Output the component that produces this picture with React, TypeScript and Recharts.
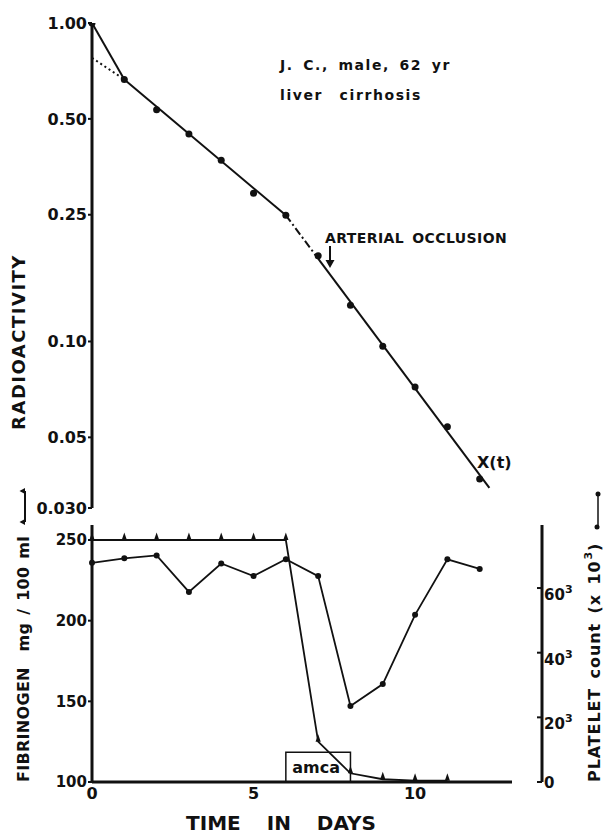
import React from "react";
import { ComposedChart, Line, XAxis, YAxis, ReferenceArea, Label } from "recharts";

const FONT = "'DejaVu Sans', sans-serif";
const INK = "#111";

// upper panel: relative radioactivity X(t), log scale
const radDays = [0, 1, 2, 3, 4, 5, 6, 7, 8, 9, 10, 11, 12];
const radValues = [1.0, 0.665, 0.534, 0.448, 0.371, 0.292, 0.249, 0.186, 0.13, 0.0966, 0.0719, 0.054, 0.037];
const radTicks = [0.03, 0.05, 0.1, 0.25, 0.5, 1];
const radTickLabels = ["0.030", "0.05", "0.10", "0.25", "0.50", "1.00"];

// fitted exponential segments [day, value]
const fitInitial = [[0, 1.0], [1, 0.665]];
const fitExtrapolated = [[0, 0.777], [1, 0.665]];
const fitSlow = [[1, 0.665], [6, 0.249]];
const fitTransition = [[6, 0.249], [7, 0.182]];
const fitFast = [[7, 0.182], [12.3, 0.0347]];

// lower panel
const labDays = [0, 1, 2, 3, 4, 5, 6, 7, 8, 9, 10, 11, 12];
const fibrinogen = [250, 250, 250, 250, 250, 250, 250, 125, 105.4, 101.7, 100.8, 100.8, null];
const platelets = [67.8, 69.2, 70.1, 58.8, 67.6, 63.7, 68.9, 63.7, 23.5, 30.3, 51.7, 68.9, 65.9];
const fibTicks = [100, 150, 200, 250];
const plateletTicks = [0, 20, 40, 60];
const dayTicks = [0, 5, 10];

const toPoints = (pairs: number[][]) => pairs.map(([day, v]) => ({ day, v }));
const radPoints = radDays.map((day, i) => ({ day, v: radValues[i] }));
const labData = labDays.map((day, i) => ({ day, fib: fibrinogen[i], plt: platelets[i] }));

const tickStyle = { fill: INK, fontSize: 16, fontWeight: 700, fontFamily: FONT };
const axisStroke = { stroke: INK, strokeWidth: 3 };

function Triangle(props: any) {
  const { cx, cy, index } = props;
  if (cx == null || cy == null || Number.isNaN(cy)) return <g key={`t-${index}`} />;
  return <path key={`t-${index}`} d={`M${cx - 2.6},${cy} L${cx + 2.6},${cy} L${cx},${cy - 7.5} Z`} fill={INK} />;
}

function PlateletTick(props: any) {
  const { x, y, payload } = props;
  const v = payload.value;
  return (
    <g>
      <line x1={x - 5} x2={x} y1={y} y2={y} stroke={INK} strokeWidth={2} />
      {v === 0 ? (
        <text x={x + 2} y={y + 6} fill={INK} fontSize={15} fontWeight={700} fontFamily={FONT}>0</text>
      ) : (
        <text x={x + 2} y={y + 12} fill={INK} fontSize={15} fontWeight={700} fontFamily={FONT}>
          {v}
          <tspan dy={-7} fontSize={11}>3</tspan>
        </text>
      )}
    </g>
  );
}

const boldText = { fill: INK, fontWeight: 700, fontFamily: FONT } as const;

export default function App() {
  return (
    <div style={{ position: "absolute", left: 0, top: 0, width: 604, height: 834, background: "#fff" }}>
      <div style={{ position: "absolute", left: 0, top: 0 }}>
        <ComposedChart width={604} height={520} margin={{ top: 23, right: 92, bottom: 12, left: 0 }}>
          <XAxis type="number" dataKey="day" domain={[0, 13]} hide />
          <YAxis
            type="number"
            scale="log"
            domain={[0.03, 1]}
            ticks={radTicks}
            allowDataOverflow
            width={92}
            axisLine={axisStroke}
            tickLine={{ stroke: INK, strokeWidth: 2 }}
            tickSize={4}
            tickMargin={1}
            tick={tickStyle}
            tickFormatter={(v: number) => radTickLabels[radTicks.findIndex((t) => Math.abs(t - v) < 1e-6)] ?? ""}
          >
            <Label
              content={() => (
                <text
                  x={18.5}
                  y={342}
                  transform="rotate(-90, 18.5, 342)"
                  textAnchor="middle"
                  dominantBaseline="central"
                  fontSize={18}
                  letterSpacing={1.5}
                  {...boldText}
                >
                  RADIOACTIVITY
                </text>
              )}
            />
          </YAxis>
          <Line data={toPoints(fitExtrapolated)} dataKey="v" stroke={INK} strokeWidth={2} strokeDasharray="2 3" dot={false} isAnimationActive={false} />
          <Line data={toPoints(fitInitial)} dataKey="v" stroke={INK} strokeWidth={2} dot={false} isAnimationActive={false} />
          <Line data={toPoints(fitSlow)} dataKey="v" stroke={INK} strokeWidth={2} dot={false} isAnimationActive={false} />
          <Line data={toPoints(fitTransition)} dataKey="v" stroke={INK} strokeWidth={2} strokeDasharray="8 3 2 3" dot={false} isAnimationActive={false} />
          <Line data={toPoints(fitFast)} dataKey="v" stroke={INK} strokeWidth={2} dot={false} isAnimationActive={false} />
          <Line data={radPoints} dataKey="v" stroke="none" strokeWidth={0} dot={{ r: 3.5, fill: INK, stroke: "none" }} isAnimationActive={false} />
        </ComposedChart>
      </div>

      <div style={{ position: "absolute", left: 0, top: 500 }}>
        <ComposedChart width={604} height={334} data={labData} margin={{ top: 25, right: 0, bottom: 0, left: 0 }}>
          <XAxis
            type="number"
            dataKey="day"
            domain={[0, 13]}
            ticks={dayTicks}
            height={52}
            tickSize={0}
            tickMargin={6}
            tickLine={false}
            axisLine={axisStroke}
            tick={tickStyle}
          >
            <Label
              content={() => (
                <text x={281} y={330} textAnchor="middle" fontSize={20} wordSpacing={19} {...boldText}>
                  TIME IN DAYS
                </text>
              )}
            />
          </XAxis>
          <YAxis
            yAxisId="fib"
            type="number"
            domain={[100, 259.3]}
            ticks={fibTicks}
            allowDataOverflow
            width={92}
            axisLine={axisStroke}
            tickLine={{ stroke: INK, strokeWidth: 2 }}
            tickSize={4}
            tickMargin={1}
            tick={{ ...tickStyle, fontSize: 15 }}
          >
            <Label
              content={() => (
                <text
                  x={23.5}
                  y={282}
                  transform="rotate(-90, 23.5, 282)"
                  textAnchor="start"
                  dominantBaseline="central"
                  fontSize={16}
                  letterSpacing={0.3}
                  wordSpacing={2}
                  style={{ whiteSpace: "pre" }}
                  {...boldText}
                >
                  {"FIBRINOGEN  mg / 100 ml"}
                </text>
              )}
            />
          </YAxis>
          <YAxis yAxisId="gap" orientation="right" width={30} domain={[0, 1]} tick={false} tickLine={false} axisLine={false} />
          <YAxis
            yAxisId="plt"
            orientation="right"
            type="number"
            domain={[0, 79.5]}
            ticks={plateletTicks}
            allowDataOverflow
            width={62}
            tickSize={0}
            tickMargin={0}
            tickLine={false}
            axisLine={axisStroke}
            tick={<PlateletTick />}
          >
            <Label
              content={() => (
                <text
                  x={594}
                  y={282}
                  transform="rotate(-90, 594, 282)"
                  textAnchor="start"
                  dominantBaseline="central"
                  fontSize={16}
                  letterSpacing={0.9}
                  wordSpacing={3}
                  {...boldText}
                >
                  PLATELET count (x 10
                  <tspan dx={1} dy={-6} fontSize={11}>3</tspan>
                  <tspan dy={6}>)</tspan>
                </text>
              )}
            />
          </YAxis>
          <ReferenceArea
            yAxisId="fib"
            x1={6}
            x2={8}
            y1={100}
            y2={118.4}
            fill="none"
            fillOpacity={0}
            stroke={INK}
            strokeWidth={1.5}
            label={(p: any) => {
              const vb = p.viewBox;
              return (
                <text x={vb.x + vb.width / 2 - 2} y={vb.y + vb.height / 2 + 6} textAnchor="middle" fontSize={16} {...boldText}>
                  amca
                </text>
              );
            }}
          />
          <Line yAxisId="fib" dataKey="fib" stroke={INK} strokeWidth={1.8} dot={<Triangle />} activeDot={false} isAnimationActive={false} />
          <Line yAxisId="plt" dataKey="plt" stroke={INK} strokeWidth={1.8} dot={{ r: 3, fill: INK, stroke: "none" }} activeDot={false} isAnimationActive={false} />
        </ComposedChart>
      </div>

      <svg width={604} height={834} style={{ position: "absolute", left: 0, top: 0, pointerEvents: "none" }}>
        <text x={280} y={70} fontSize={14} letterSpacing={1.6} wordSpacing={3} {...boldText}>
          J. C., male, 62 yr
        </text>
        <text x={280} y={100} fontSize={14} letterSpacing={1.6} wordSpacing={10} {...boldText}>
          liver cirrhosis
        </text>
        <text x={325} y={243} fontSize={14} letterSpacing={0.4} wordSpacing={3} {...boldText}>
          ARTERIAL OCCLUSION
        </text>
        <line x1={330} x2={330} y1={246} y2={261} stroke={INK} strokeWidth={2} />
        <path d="M325.5,260 L334.5,260 L330,268 Z" fill={INK} />
        <text x={477} y={468} fontSize={16} {...boldText}>
          X(t)
        </text>
        {/* legend keys beside the rotated axis titles */}
        <line x1={25} x2={25} y1={491} y2={522} stroke={INK} strokeWidth={2} />
        <path d="M25,488 L25,494 L19.5,491 Z" fill={INK} />
        <path d="M25,519 L25,525 L19.5,522 Z" fill={INK} />
        <line x1={598} x2={598} y1={494} y2={527} stroke={INK} strokeWidth={1.5} />
        <circle cx={598} cy={494} r={2.5} fill={INK} />
        <circle cx={597} cy={527} r={2.5} fill={INK} />
      </svg>
    </div>
  );
}
